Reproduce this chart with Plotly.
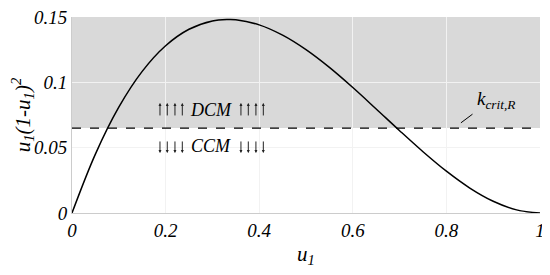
import plotly.graph_objects as go

# curve (u1 vs u1(1-u1)^2)
u1 = [0, 0.05, 0.1, 0.15, 0.2, 0.25, 0.3, 0.333, 0.35, 0.4, 0.45, 0.5,
      0.55, 0.6, 0.65, 0.7, 0.75, 0.8, 0.85, 0.9, 0.95, 1.0]
f_u1 = [0, 0.0451, 0.081, 0.1084, 0.128, 0.1406, 0.147, 0.1481, 0.1479, 0.144,
        0.1361, 0.125, 0.1114, 0.096, 0.0796, 0.063, 0.0469, 0.032, 0.0191,
        0.009, 0.0024, 0]

k_crit = 0.065
x_ticks = [0, 0.2, 0.4, 0.6, 0.8, 1]
x_labels = ["0", "0.2", "0.4", "0.6", "0.8", "1"]
y_ticks = [0, 0.05, 0.1, 0.15]
y_labels = ["0", "0.05", "0.1", "0.15"]

# little arrows either side of the DCM / CCM labels
arrow_x = [0.188, 0.2036, 0.220, 0.2357, 0.361, 0.3767, 0.393, 0.4088]

FONT = "Liberation Serif"
ITAL = dict(family=FONT, size=19, color="black", style="italic")
TITLE = dict(family=FONT, size=21, color="black", style="italic")

fig = go.Figure()

# shaded region above critical value
fig.add_shape(type="rect", xref="x", yref="y", x0=0, x1=1, y0=k_crit, y1=0.15,
              fillcolor="#d9d9d9", line_width=0, layer="below")

fig.add_trace(go.Scatter(x=[0, 1], y=[k_crit, k_crit], mode="lines",
                         line=dict(color="black", width=1.3, dash="dash"),
                         showlegend=False, hoverinfo="skip"))

fig.add_trace(go.Scatter(x=u1, y=f_u1, mode="lines", line_shape="spline",
                         line=dict(color="black", width=1.5),
                         showlegend=False))

# unicode arrows fall back to the colour emoji font, so draw them instead
for xa in arrow_x:
    fig.add_annotation(x=xa, y=0.0842, ax=xa, ay=0.0735, axref="x", ayref="y",
                       text="", showarrow=True, arrowhead=2, arrowsize=0.6,
                       arrowwidth=1, arrowcolor="#222222")
    fig.add_annotation(x=xa, y=0.0459, ax=xa, ay=0.0559, axref="x", ayref="y",
                       text="", showarrow=True, arrowhead=2, arrowsize=0.6,
                       arrowwidth=1, arrowcolor="#222222")

fig.add_annotation(x=0.298, y=0.0785, text="DCM", showarrow=False,
                   font=dict(family=FONT, size=18, color="black", style="italic"))
fig.add_annotation(x=0.298, y=0.051, text="CCM", showarrow=False,
                   font=dict(family=FONT, size=18, color="black", style="italic"))
fig.add_annotation(x=0.905, y=0.0865, text="k<sub>crit,R</sub>", showarrow=False,
                   font=dict(family=FONT, size=19, color="black", style="italic"))
fig.add_annotation(x=0.831, y=0.069, ax=0.859, ay=0.0765, axref="x", ayref="y",
                   text="", showarrow=True, arrowhead=0, arrowwidth=1,
                   arrowcolor="black")

fig.update_xaxes(range=[0, 1], tickvals=x_ticks, ticktext=x_labels,
                 tickfont=ITAL, showgrid=True, gridcolor="#f2f2f2",
                 showline=True, linecolor="#cccccc", zeroline=False,
                 ticks="", automargin=False, ticklabeloverflow="allow",
                 title=dict(text="u<sub>1</sub>", font=TITLE, standoff=6))
fig.update_yaxes(range=[0, 0.15], tickvals=y_ticks, ticktext=y_labels,
                 tickfont=ITAL, showgrid=True, gridcolor="#f2f2f2",
                 showline=True, linecolor="#cccccc", zeroline=False,
                 ticks="", automargin=False, ticklabeloverflow="allow",
                 title=dict(text="u<sub>1</sub>(1-u<sub>1</sub>)<sup>2</sup>",
                            font=TITLE, standoff=2))

# page body adds an 8px margin, so the figure is sized to fit inside the window
fig.update_layout(width=542, height=267, margin=dict(l=64, r=10, t=9, b=62),
                  plot_bgcolor="white", paper_bgcolor="white")

fig.write_html("out.html")
